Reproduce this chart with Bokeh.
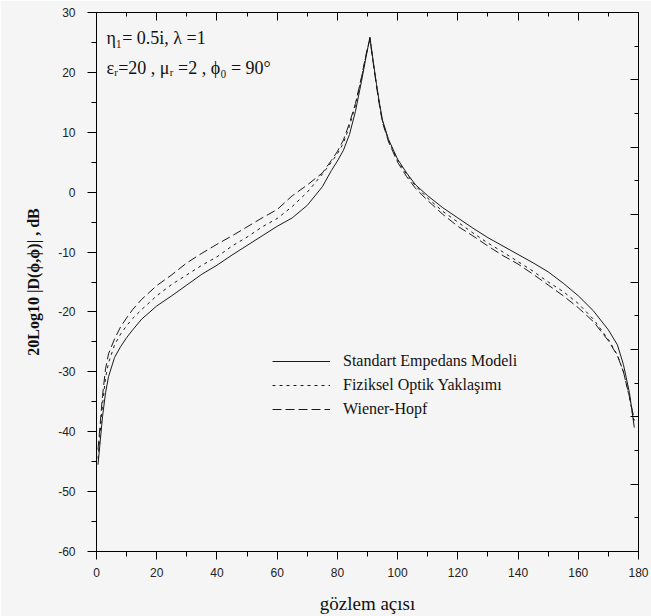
from bokeh.plotting import figure
from bokeh.models import (Range1d, LinearAxis, SingleIntervalTicker, FixedTicker, Label,
                          CustomJSTickFormatter)
from bokeh.embed import file_html
from bokeh.resources import INLINE

# observation angle (deg)
angles = [0.5, 2, 3, 4, 6, 8, 10, 12, 15, 20, 25, 30, 35, 40, 45, 50, 55, 60, 65, 70,
          75, 78, 80, 82, 84, 86, 88, 89.5, 90.8, 92, 93, 94, 95, 97, 100, 103, 106, 110,
          115, 120, 125, 130, 135, 140, 145, 150, 155, 160, 165, 170, 173, 175, 177, 178.6]

# Standart Empedans Modeli (solid)
standart = [-45.5, -37.5, -33.5, -30.8, -27.6, -25.8, -24.3, -23.0, -21.2, -19.0, -17.3, -15.5,
            -13.7, -12.2, -10.5, -8.9, -7.3, -5.7, -4.3, -2.2, 0.9, 3.6, 5.2, 7.0, 9.6, 13.5,
            18.5, 22.5, 25.9, 21.5, 18.0, 14.8, 12.0, 8.8, 5.5, 3.2, 1.2, -0.6, -2.6, -4.3,
            -6.0, -7.6, -9.0, -10.4, -11.8, -13.3, -15.2, -17.3, -19.8, -23.0, -25.5, -28.8,
            -33.5, -39.3]

# Fiziksel Optik Yaklasimi (dotted)
fiziksel = [-44.5, -35.5, -31.0, -28.5, -25.5, -23.7, -22.3, -21.1, -19.6, -17.3, -15.4, -13.8,
            -12.2, -10.8, -9.0, -7.5, -5.8, -4.4, -2.4, 0.0, 3.0, 5.0, 6.4, 8.2, 11.0, 14.5,
            19.0, 22.8, 25.7, 21.3, 17.8, 14.6, 11.8, 8.6, 5.3, 3.0, 1.0, -1.0, -3.2, -5.0,
            -6.8, -8.5, -10.0, -11.6, -13.2, -15.0, -16.6, -18.6, -21.2, -24.6, -27.2, -30.0,
            -34.3, -38.5]

# Wiener-Hopf (dashed)
wiener = [-43.0, -34.0, -29.5, -27.0, -24.5, -22.5, -21.0, -19.6, -17.9, -15.6, -13.8, -11.8,
          -10.2, -8.7, -7.3, -5.8, -4.3, -2.9, -0.6, 1.2, 3.2, 5.3, 6.8, 8.7, 11.5, 14.8,
          19.2, 23.0, 25.5, 21.2, 17.6, 14.4, 11.6, 8.4, 5.0, 2.6, 0.6, -1.4, -3.7, -5.7,
          -7.3, -9.0, -10.6, -12.0, -13.7, -15.5, -17.3, -19.3, -21.6, -24.8, -27.3, -30.0,
          -34.2, -38.0]

series_names = ["Standart Empedans Modeli", "Fiziksel Optik Yaklaşımı", "Wiener-Hopf"]

BG = "#f5f5f5"
SERIF = "Liberation Serif"
SANS = "Liberation Sans"

p = figure(width=651, height=616, output_backend="svg", toolbar_location=None,
           x_range=Range1d(0, 180), y_range=Range1d(-60, 30),
           x_axis_location=None, y_axis_location=None,
           min_border_left=96, min_border_right=13, min_border_top=12, min_border_bottom=61)
p.background_fill_color = BG
p.border_fill_color = BG
p.outline_line_color = "black"
p.xgrid.visible = False
p.ygrid.visible = False

hyphen_fmt = CustomJSTickFormatter(code="return tick.toString()")

# bottom axis
xb = LinearAxis(ticker=SingleIntervalTicker(interval=20, num_minor_ticks=2),
                axis_label="gözlem açısı", formatter=hyphen_fmt)
# left axis
yl = LinearAxis(ticker=SingleIntervalTicker(interval=10, num_minor_ticks=2),
                axis_label="20Log10 |D(ϕ,ϕ)| , dB",
                formatter=CustomJSTickFormatter(code="return tick.toString()"))
for ax in (xb, yl):
    ax.axis_line_color = "black"
    ax.major_tick_line_color = "black"
    ax.minor_tick_line_color = "black"
    ax.major_tick_in = 0
    ax.minor_tick_in = 0
    ax.major_label_text_font = SANS
    ax.major_label_text_font_size = "12px"
    ax.major_label_text_color = "#222222"
    ax.axis_label_text_font = SERIF
    ax.axis_label_text_color = "#111111"
xb.major_tick_out = 8
xb.minor_tick_out = 5
xb.major_label_standoff = 8
xb.axis_label_text_font_size = "19px"
xb.axis_label_text_font_style = "normal"
xb.axis_label_standoff = 13
yl.major_tick_out = 9
yl.minor_tick_out = 5
yl.major_label_standoff = 12
yl.axis_label_text_font_size = "16px"
yl.axis_label_text_font_style = "bold"
yl.axis_label_standoff = 13
p.add_layout(xb, "below")
p.add_layout(yl, "left")

# top axis: ticks inward, no labels
xt = LinearAxis(ticker=SingleIntervalTicker(interval=20, num_minor_ticks=2))
# right axis: ticks inward, no labels (16 divisions of the range)
right_major = [30 - 11.25 * k for k in range(9)]
right_minor = [30 - 5.625 - 11.25 * k for k in range(8)]
yr = LinearAxis(ticker=FixedTicker(ticks=right_major, minor_ticks=right_minor))
for ax in (xt, yr):
    ax.axis_line_color = "black"
    ax.major_tick_line_color = "black"
    ax.minor_tick_line_color = "black"
    ax.major_tick_out = 0
    ax.minor_tick_out = 0
    ax.major_tick_in = 8
    ax.minor_tick_in = 4
    ax.formatter = CustomJSTickFormatter(code="return ''")
    ax.major_label_standoff = 0
p.add_layout(xt, "above")
p.add_layout(yr, "right")

styles = ["solid", "3 4", "9 4"]
for ys, name, dash in zip([standart, fiziksel, wiener], series_names, styles):
    p.line(angles, ys, line_color="#1a1a1a", line_width=1, line_dash=dash, legend_label=name)

lg = p.legend[0]
lg.location = (176, 132)
lg.padding = 0
lg.margin = 0
lg.spacing = 4
lg.glyph_width = 58
lg.glyph_height = 20
lg.label_height = 20
lg.label_standoff = 13
lg.label_text_font = SERIF
lg.label_text_font_size = "16px"
lg.label_text_color = "#111111"
lg.border_line_alpha = 0
lg.background_fill_alpha = 0

ann1 = Label(x=3.3, y=25.7, text="η₁= 0.5i, λ =1", text_font=SERIF,
             text_font_size="18px", text_baseline="middle", text_color="#111111")
ann2 = Label(x=3.3, y=20.7, text="εᵣ=20 , μᵣ =2 , ϕ₀ = 90°", text_font=SERIF,
             text_font_size="18px", text_baseline="middle", text_color="#111111")
p.add_layout(ann1)
p.add_layout(ann2)

open("out.html", "w").write(file_html(p, INLINE))
